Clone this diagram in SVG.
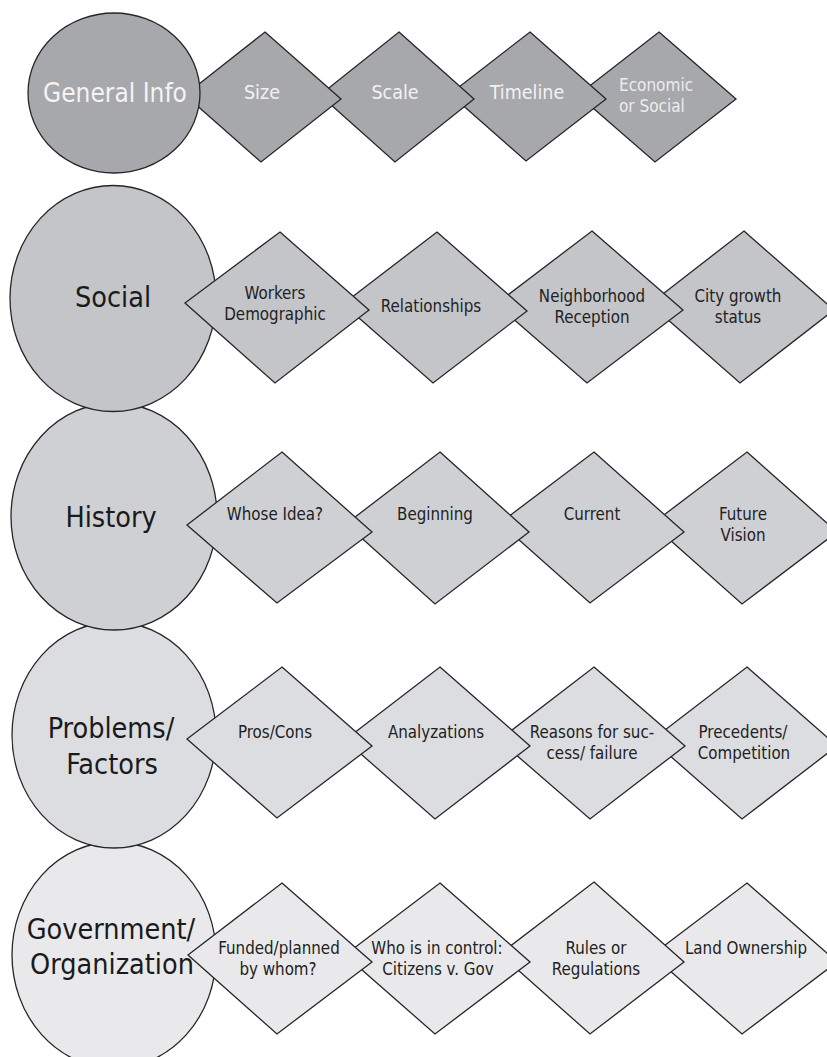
<svg xmlns="http://www.w3.org/2000/svg" width="827" height="1057" viewBox="0 0 827 1057">
<style>
  .s { stroke: #262626; stroke-width: 1.3; stroke-linejoin: miter; }
  .r1 { fill: #a7a8ab; }
  .r2 { fill: #c3c5c8; }
  .r3 { fill: #cfd0d3; }
  .r4 { fill: #dcdde0; }
  .r5 { fill: #e9e9eb; }
  text { font-family: "DejaVu Sans Condensed", "DejaVu Sans", sans-serif; font-stretch: condensed; text-anchor: middle; }
  .big { font-size: 28.5px; fill: #1a1a1a; }
  .bigw { font-size: 26px; fill: #f4f4f4; }
  .dw { font-size: 19.5px; fill: #f2f2f2; }
  .dw2 { font-size: 17px; fill: #ececec; text-anchor: start; }
  .d { font-size: 16.8px; fill: #222222; }
</style>
<rect width="827" height="1057" fill="#ffffff"/>

<!-- Row 5: Government / Organization -->
<g id="government">
  <ellipse class="s r5" cx="114" cy="955" rx="102" ry="113"/>
  <text class="big" x="111" y="939">Government/</text>
  <text class="big" x="112" y="974">Organization</text>
</g>
<g id="land-ownership">
  <polygon class="s r5" points="747,883 837,962 742,1034 652,955"/>
  <text class="d" x="746" y="954">Land Ownership</text>
</g>
<g id="rules-regulations">
  <polygon class="s r5" points="594,882 684,962 590,1034 500,954"/>
  <text class="d" x="596" y="954">Rules or</text>
  <text class="d" x="596" y="975">Regulations</text>
</g>
<g id="who-in-control">
  <polygon class="s r5" points="440,883 530,962 435,1034 345,955"/>
  <text class="d" x="437" y="954">Who is in control:</text>
  <text class="d" x="438" y="975">Citizens v. Gov</text>
</g>
<g id="funded-planned">
  <polygon class="s r5" points="282,883 372,962 277,1034 188,955"/>
  <text class="d" x="279" y="954">Funded/planned</text>
  <text class="d" x="278" y="975">by whom?</text>
</g>

<!-- Row 4: Problems / Factors -->
<g id="problems-factors">
  <ellipse class="s r4" cx="114" cy="735" rx="102" ry="113"/>
  <text class="big" x="111" y="738">Problems/</text>
  <text class="big" x="112" y="774">Factors</text>
</g>
<g id="precedents-competition">
  <polygon class="s r4" points="747,667 837,746 742,819 652,740"/>
  <text class="d" x="743" y="738">Precedents/</text>
  <text class="d" x="744" y="759">Competition</text>
</g>
<g id="reasons">
  <polygon class="s r4" points="594,667 685,746 590,819 499,740"/>
  <text class="d" x="592" y="738">Reasons for suc-</text>
  <text class="d" x="592" y="759">cess/ failure</text>
</g>
<g id="analyzations">
  <polygon class="s r4" points="440,667 530,746 435,819 345,740"/>
  <text class="d" x="436" y="738">Analyzations</text>
</g>
<g id="pros-cons">
  <polygon class="s r4" points="282,667 372,746 277,818 187,739"/>
  <text class="d" x="275" y="738">Pros/Cons</text>
</g>

<!-- Row 3: History -->
<g id="history">
  <ellipse class="s r3" cx="114" cy="516.5" rx="103" ry="113.5"/>
  <text class="big" x="111" y="527">History</text>
</g>
<g id="future-vision">
  <polygon class="s r3" points="747,452 837,532 742,604 652,524"/>
  <text class="d" x="743" y="520">Future</text>
  <text class="d" x="743" y="541">Vision</text>
</g>
<g id="current">
  <polygon class="s r3" points="594,452 684,532 590,603 500,523"/>
  <text class="d" x="592" y="520">Current</text>
</g>
<g id="beginning">
  <polygon class="s r3" points="440,452 529,532 435,604 346,524"/>
  <text class="d" x="435" y="520">Beginning</text>
</g>
<g id="whose-idea">
  <polygon class="s r3" points="282,452 372,532 277,603 187,525"/>
  <text class="d" x="275" y="520">Whose Idea?</text>
</g>

<!-- Row 2: Social -->
<g id="social">
  <ellipse class="s r2" cx="113" cy="298.5" rx="103" ry="113"/>
  <text class="big" x="113" y="307">Social</text>
</g>
<g id="city-growth">
  <polygon class="s r2" points="744,231 834,310 740,383 650,304"/>
  <text class="d" x="738" y="302">City growth</text>
  <text class="d" x="738" y="323">status</text>
</g>
<g id="neighborhood-reception">
  <polygon class="s r2" points="592,231 683,310 587,383 496,304"/>
  <text class="d" x="592" y="302">Neighborhood</text>
  <text class="d" x="592" y="323">Reception</text>
</g>
<g id="relationships">
  <polygon class="s r2" points="437,232 527,311 433,383 343,304"/>
  <text class="d" x="431" y="312">Relationships</text>
</g>
<g id="workers-demographic">
  <polygon class="s r2" points="280,232 369,310 275,383 185,303"/>
  <text class="d" x="275" y="299">Workers</text>
  <text class="d" x="275" y="320">Demographic</text>
</g>

<!-- Row 1: General Info -->
<g id="economic-social">
  <polygon class="s r1" points="659,32 736,99 655,162 578,95"/>
  <text class="dw2" x="619" y="91">Economic</text>
  <text class="dw2" x="619" y="112">or Social</text>
</g>
<g id="timeline">
  <polygon class="s r1" points="530,32 606,99 526,161 450,94"/>
  <text class="dw" x="527" y="99">Timeline</text>
</g>
<g id="scale">
  <polygon class="s r1" points="399,32 474,99 395,162 320,95"/>
  <text class="dw" x="395" y="99">Scale</text>
</g>
<g id="size">
  <polygon class="s r1" points="265,32 341,99 261,162 185,95"/>
  <text class="dw" x="262" y="99">Size</text>
</g>
<g id="general-info">
  <ellipse class="s r1" cx="114" cy="93" rx="86" ry="80"/>
  <text class="bigw" x="115" y="101.5">General Info</text>
</g>

<g id="connectors"></g>
</svg>
